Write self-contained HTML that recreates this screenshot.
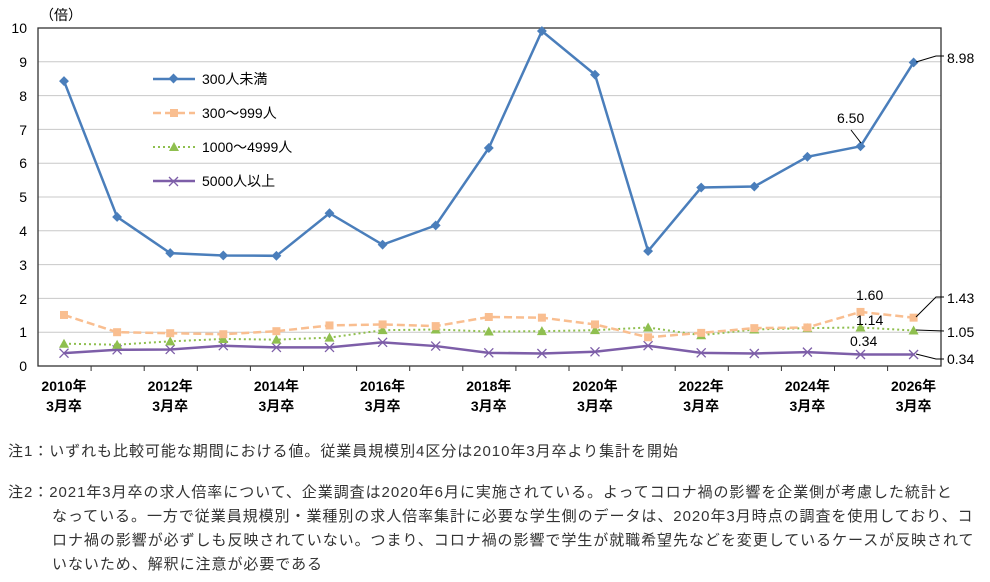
<!DOCTYPE html>
<html><head><meta charset="utf-8"><style>
body{margin:0;background:#fff;width:990px;height:582px;overflow:hidden;font-family:"Liberation Sans","Noto Sans CJK JP",sans-serif;}
.n{position:absolute;left:8px;font-size:15px;letter-spacing:0.95px;color:#333;line-height:24px;white-space:nowrap;}
</style></head><body>
<svg width="990" height="440" style="position:absolute;left:0;top:0" font-family="Liberation Sans, Noto Sans CJK JP, sans-serif">
<g stroke="#c8c8c8" stroke-width="1">
<line x1="38" x2="941" y1="61.8" y2="61.8"/><line x1="38" x2="941" y1="95.6" y2="95.6"/><line x1="38" x2="941" y1="129.4" y2="129.4"/><line x1="38" x2="941" y1="163.2" y2="163.2"/><line x1="38" x2="941" y1="197" y2="197"/><line x1="38" x2="941" y1="230.8" y2="230.8"/><line x1="38" x2="941" y1="264.6" y2="264.6"/><line x1="38" x2="941" y1="298.4" y2="298.4"/><line x1="38" x2="941" y1="332.2" y2="332.2"/>
</g>
<rect x="38" y="28" width="903" height="338" fill="none" stroke="#333" stroke-width="1.3"/>
<g font-size="14" fill="#000" text-anchor="end">
<text x="27" y="33">10</text><text x="27" y="67">9</text><text x="27" y="101">8</text><text x="27" y="135">7</text><text x="27" y="168">6</text><text x="27" y="202">5</text><text x="27" y="236">4</text><text x="27" y="270">3</text><text x="27" y="304">2</text><text x="27" y="337">1</text><text x="27" y="371">0</text>
</g>
<text x="40" y="20" font-size="14">（倍）</text>
<g id="series"></g>
<g font-size="14">
<line x1="153" x2="195" y1="79" y2="79" stroke="#4a7ebb" stroke-width="2.5"/><rect x="170" y="75" width="7" height="7" fill="#4a7ebb" transform="rotate(45 173.5 78.5)"/><text x="202" y="84">300人未満</text>
<line x1="153" x2="195" y1="113" y2="113" stroke="#f9be90" stroke-width="2.5" stroke-dasharray="8,4"/><rect x="170" y="109" width="8" height="8" fill="#f9be90"/><text x="202" y="118">300～999人</text>
<line x1="153" x2="195" y1="147" y2="147" stroke="#8fbf4f" stroke-width="2" stroke-dasharray="2,3"/><polygon points="174,142 179,151 169,151" fill="#8fbf4f"/><text x="202" y="152">1000～4999人</text>
<line x1="153" x2="195" y1="181" y2="181" stroke="#7d5ea8" stroke-width="2.5"/><path d="M169 177l9 9M178 177l-9 9" stroke="#7d5ea8" stroke-width="1.3"/><text x="202" y="186">5000人以上</text>
</g>
<g font-size="14" fill="#000">
<text x="947" y="63">8.98</text><text x="947" y="303">1.43</text><text x="947" y="337">1.05</text><text x="947" y="364">0.34</text>
<text x="837" y="123">6.50</text><text x="856" y="300">1.60</text><text x="856" y="325">1.14</text><text x="850" y="346">0.34</text>
</g>
<g stroke="#000" fill="none" stroke-width="1">
<path d="M916 62 L936 56 L944 56"/><path d="M916 317 L936 297 L944 297"/><path d="M916 330 L944 331"/><path d="M916 354 L936 359 L944 359"/><path d="M851 130 L861 143"/>
</g>
</svg>
<div class="n" style="top:440px">注1：いずれも比較可能な期間における値。従業員規模別4区分は2010年3月卒より集計を開始</div>
<div class="n" style="top:481px;padding-left:44px;text-indent:-44px;">注2：2021年3月卒の求人倍率について、企業調査は2020年6月に実施されている。よってコロナ禍の影響を企業側が考慮した統計と<br>なっている。一方で従業員規模別・業種別の求人倍率集計に必要な学生側のデータは、2020年3月時点の調査を使用しており、コ<br>ロナ禍の影響が必ずしも反映されていない。つまり、コロナ禍の影響で学生が就職希望先などを変更しているケースが反映されて<br>いないため、解釈に注意が必要である</div>
<script>
const X=i=>64+i*53.1, Y=v=>366-33.8*v;
const d=[[8.43,4.41,3.34,3.27,3.26,4.52,3.59,4.16,6.45,9.91,8.62,3.40,5.28,5.31,6.19,6.50,8.98],
[1.51,1.00,0.97,0.94,1.03,1.20,1.23,1.18,1.45,1.43,1.23,0.85,0.98,1.12,1.14,1.60,1.43],
[0.66,0.63,0.73,0.80,0.78,0.84,1.06,1.08,1.02,1.03,1.06,1.14,0.91,1.08,1.12,1.14,1.05],
[0.38,0.48,0.49,0.60,0.55,0.55,0.70,0.59,0.39,0.37,0.42,0.60,0.39,0.37,0.41,0.34,0.34]];
const c=["#4a7ebb","#f9be90","#8fbf4f","#7d5ea8"],da=["","8,4","2,3",""],w=[2.5,2.5,2,2.5];
let h="";
for(let i=1;i<17;i++){let x=38+i*53.1;h+=`<line x1="${x}" x2="${x}" y1="366" y2="371" stroke="#333"/>`;}
for(let i=0;i<17;i+=2){h+=`<text x="${X(i)}" y="391" font-size="14" font-weight="bold" text-anchor="middle">${2010+i}年</text><text x="${X(i)}" y="411" font-size="14" font-weight="bold" text-anchor="middle">3月卒</text>`;}
[3,2,1,0].forEach(s=>{const p=d[s].map((v,i)=>X(i)+","+Y(v)).join(" ");
h+=`<polyline points="${p}" fill="none" stroke="${c[s]}" stroke-width="${w[s]}" stroke-dasharray="${da[s]}"/>`;
d[s].forEach((v,i)=>{const x=X(i),y=Y(v);
if(s==0)h+=`<rect x="${x-3.5}" y="${y-3.5}" width="7" height="7" fill="${c[0]}" transform="rotate(45 ${x} ${y})"/>`;
if(s==1)h+=`<rect x="${x-4}" y="${y-4}" width="8" height="8" fill="${c[1]}"/>`;
if(s==2)h+=`<polygon points="${x},${y-5} ${x+5},${y+4} ${x-5},${y+4}" fill="${c[2]}"/>`;
if(s==3)h+=`<path d="M${x-4.5} ${y-4.5}l9 9M${x+4.5} ${y-4.5}l-9 9" stroke="${c[3]}" stroke-width="1.3"/>`;});});
document.getElementById("series").innerHTML=h;
</script>
</body></html>
